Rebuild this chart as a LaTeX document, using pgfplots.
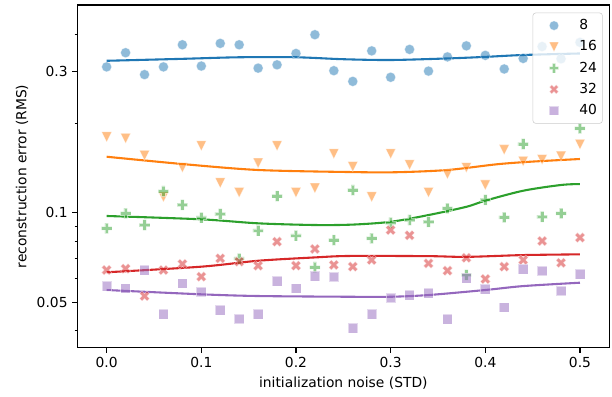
\documentclass[border=0pt]{standalone}
\usepackage{fontspec}
\setmainfont{DejaVu Sans}
\usepackage{pgfplots}
\usepackage{pgfplotstable}
\pgfplotsset{compat=1.18}
\definecolor{c0}{HTML}{1F77B4}
\definecolor{c1}{HTML}{FF7F0E}
\definecolor{c2}{HTML}{2CA02C}
\definecolor{c3}{HTML}{D62728}
\definecolor{c4}{HTML}{9467BD}
\pgfdeclareplotmark{tridown}{%
  \pgfpathmoveto{\pgfpoint{0pt}{-\pgfplotmarksize}}%
  \pgfpathlineto{\pgfpoint{-\pgfplotmarksize}{\pgfplotmarksize}}%
  \pgfpathlineto{\pgfpoint{\pgfplotmarksize}{\pgfplotmarksize}}%
  \pgfpathclose\pgfusepathqfillstroke}
\pgfdeclareplotmark{plusfilled}{%
  \pgfpathmoveto{\pgfpoint{-0.3333\pgfplotmarksize}{-\pgfplotmarksize}}%
  \pgfpathlineto{\pgfpoint{-0.3333\pgfplotmarksize}{-0.3333\pgfplotmarksize}}%
  \pgfpathlineto{\pgfpoint{-\pgfplotmarksize}{-0.3333\pgfplotmarksize}}%
  \pgfpathlineto{\pgfpoint{-\pgfplotmarksize}{0.3333\pgfplotmarksize}}%
  \pgfpathlineto{\pgfpoint{-0.3333\pgfplotmarksize}{0.3333\pgfplotmarksize}}%
  \pgfpathlineto{\pgfpoint{-0.3333\pgfplotmarksize}{\pgfplotmarksize}}%
  \pgfpathlineto{\pgfpoint{0.3333\pgfplotmarksize}{\pgfplotmarksize}}%
  \pgfpathlineto{\pgfpoint{0.3333\pgfplotmarksize}{0.3333\pgfplotmarksize}}%
  \pgfpathlineto{\pgfpoint{\pgfplotmarksize}{0.3333\pgfplotmarksize}}%
  \pgfpathlineto{\pgfpoint{\pgfplotmarksize}{-0.3333\pgfplotmarksize}}%
  \pgfpathlineto{\pgfpoint{0.3333\pgfplotmarksize}{-0.3333\pgfplotmarksize}}%
  \pgfpathlineto{\pgfpoint{0.3333\pgfplotmarksize}{-\pgfplotmarksize}}%
  \pgfpathclose\pgfusepathqfillstroke}
\pgfplotstableread{
x s8 s16 s24 s32 s40
0.00 0.310 0.180 0.0886 0.0641 0.0566
0.02 0.346 0.178 0.0995 0.0648 0.0556
0.04 0.292 0.156 0.0909 0.0524 0.0641
0.06 0.310 0.113 0.1181 0.0641 0.0456
0.08 0.368 0.142 0.1062 0.0672 0.0578
0.10 0.312 0.168 0.0962 0.0609 0.0541
0.12 0.372 0.126 0.0990 0.0702 0.0470
0.14 0.368 0.117 0.0700 0.0684 0.0439
0.16 0.307 0.147 0.0870 0.0663 0.0455
0.18 0.315 0.168 0.1138 0.0799 0.0589
0.20 0.344 0.117 0.0837 0.0663 0.0555
0.22 0.398 0.121 0.0655 0.0755 0.0612
0.24 0.301 0.158 0.0809 0.0667 0.0609
0.26 0.277 0.143 0.1192 0.0658 0.0408
0.28 0.351 0.113 0.0820 0.0693 0.0456
0.30 0.286 0.158 0.0925 0.0874 0.0517
0.32 0.355 0.145 0.0945 0.0839 0.0528
0.34 0.300 0.117 0.0932 0.0675 0.0535
0.36 0.335 0.135 0.1035 0.0638 0.0438
0.38 0.365 0.142 0.0617 0.0705 0.0601
0.40 0.339 0.124 0.1104 0.0598 0.0552
0.42 0.305 0.163 0.0965 0.0658 0.0479
0.44 0.331 0.149 0.1704 0.0693 0.0645
0.46 0.363 0.151 0.0969 0.0803 0.0638
0.48 0.330 0.155 0.0995 0.0678 0.0546
0.50 0.375 0.170 0.1924 0.0824 0.0622
}\datatable
\begin{document}
\begin{tikzpicture}
\begin{axis}[
  scale only axis,
  width=383bp, height=246.7bp,
  xmin=-0.031, xmax=0.531,
  ymode=log, ymin=0.0351, ymax=0.501,
  xtick={0,0.1,0.2,0.3,0.4,0.5},
  xticklabel style={/pgf/number format/.cd, fixed, fixed zerofill, precision=1},
  ytick={0.05,0.1,0.3},
  yticklabels={0.05,0.1,0.3},
  minor ytick={0.04,0.06,0.07,0.08,0.09,0.2,0.4},
  /pgf/number format/assume math mode=true,
  tick align=outside,
  major tick length=3.5bp, minor tick length=2bp,
  every tick/.style={black, line width=0.8bp},
  minor tick style={line width=0.6bp},
  xtick pos=bottom, ytick pos=left,
  axis line style={line width=0.8bp},
  tick label style={font=\fontsize{10}{12}\selectfont},
  label style={font=\fontsize{10}{12}\selectfont},
  xlabel={initialization noise (STD)},
  ylabel={reconstruction error (RMS)},
  every axis x label/.style={at={(axis description cs:0.5,-0.103)}, anchor=center},
  every axis y label/.style={at={(axis description cs:-0.1039,0.5)}, anchor=center, rotate=90},
  legend style={at={(1,1)}, anchor=north east, xshift=-4.75bp, yshift=-5.5bp,
    draw=black!20, rounded corners=2bp, fill=white, fill opacity=0.8, text opacity=1,
    font=\fontsize{10}{12}\selectfont, inner xsep=2bp, inner ysep=1.5bp,
    nodes={text height=7.6bp, text depth=2bp, inner ysep=2.85bp},
    /tikz/every odd column/.append style={column sep=8bp}},
  legend cell align=left,
  legend image code/.code={\path (-5bp,0bp) (16bp,0bp); \draw[#1, mark size=3.4bp] plot coordinates {(8bp,0bp)};},
]
\addplot[only marks, mark=*, mark size=3.6bp, mark options={fill=c0, draw=white, line width=0.4bp, opacity=0.5}] table[x=x,y=s8] {\datatable};
\addlegendentry{8}
\addplot[only marks, mark=tridown, mark size=3.6bp, mark options={fill=c1, draw=white, line width=0.4bp, opacity=0.5}] table[x=x,y=s16] {\datatable};
\addlegendentry{16}
\addplot[only marks, mark=plusfilled, mark size=3.8bp, mark options={fill=c2, draw=white, line width=0.4bp, opacity=0.5}] table[x=x,y=s24] {\datatable};
\addlegendentry{24}
\addplot[only marks, mark=plusfilled, mark size=3.8bp, mark options={rotate=45, fill=c3, draw=white, line width=0.4bp, opacity=0.5}] table[x=x,y=s32] {\datatable};
\addlegendentry{32}
\addplot[only marks, mark=square*, mark size=3.5bp, mark options={fill=c4, draw=white, line width=0.4bp, opacity=0.5}] table[x=x,y=s40] {\datatable};
\addlegendentry{40}
\addplot[c0, line width=1.5bp, smooth, no marks, forget plot] coordinates {(0,0.325)(0.08,0.330)(0.14,0.334)(0.2,0.334)(0.25,0.329)(0.3,0.327)(0.36,0.331)(0.4,0.335)(0.44,0.340)(0.5,0.344)};
\addplot[c1, line width=1.5bp, smooth, no marks, forget plot] coordinates {(0,0.1544)(0.08,0.1459)(0.16,0.1393)(0.257,0.1371)(0.306,0.1369)(0.36,0.1393)(0.412,0.1456)(0.447,0.1485)(0.5,0.1517)};
\addplot[c2, line width=1.5bp, smooth, no marks, forget plot] coordinates {(0,0.0975)(0.1,0.0950)(0.16,0.0921)(0.22,0.0909)(0.26,0.0912)(0.3,0.0932)(0.34,0.0982)(0.38,0.1047)(0.4,0.1098)(0.44,0.1186)(0.48,0.1240)(0.5,0.1249)};
\addplot[c3, line width=1.5bp, smooth, no marks, forget plot] coordinates {(0,0.0630)(0.1,0.0658)(0.16,0.0689)(0.22,0.0707)(0.257,0.0715)(0.34,0.0714)(0.38,0.0710)(0.44,0.0720)(0.5,0.0724)};
\addplot[c4, line width=1.5bp, smooth, no marks, forget plot] coordinates {(0,0.0549)(0.1,0.0531)(0.16,0.0524)(0.257,0.0521)(0.3,0.0521)(0.34,0.0528)(0.4,0.0549)(0.44,0.0566)(0.5,0.0581)};
\end{axis}
\pgfresetboundingbox
\path[use as bounding box] ([xshift=-55.66bp,yshift=-35.5bp]current axis.south west) rectangle ([xshift=1.94bp,yshift=3.6bp]current axis.north east);
\end{tikzpicture}
\end{document}
